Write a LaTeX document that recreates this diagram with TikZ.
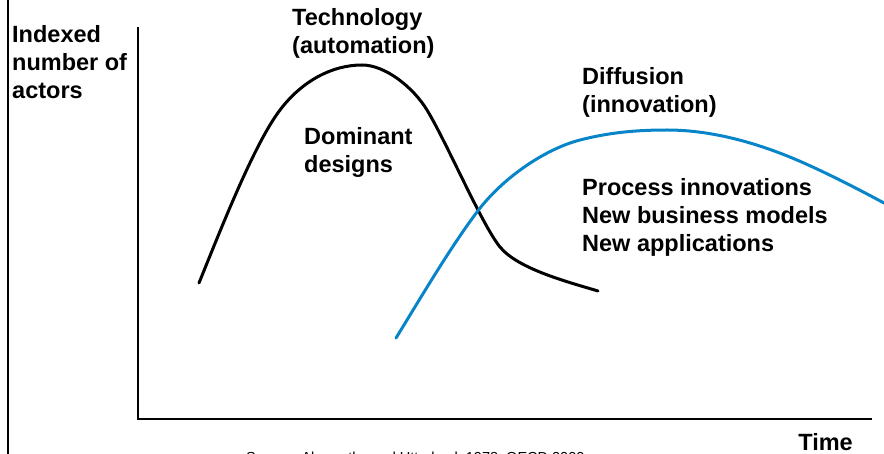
\documentclass[tikz,border=0pt]{standalone}
\usepackage{fontspec}
\setmainfont{Liberation Sans}
\definecolor{diffblue}{RGB}{8,132,200}
\begin{document}
\begin{tikzpicture}[x=1pt,y=-1pt,
  lbl/.style={anchor=base west,inner sep=0pt,align=left,
    font=\fontsize{23.5}{28}\selectfont\bfseries},
  axisline/.style={line width=2.6pt},
  curve/.style={line width=3pt,line cap=round}]
\useasboundingbox (0,0) rectangle (884,454);
\begin{scope}
\clip (0,0) rectangle (884,454);
% left border
\draw[line width=2pt] (8,0) -- (8,454);
% axes
\coordinate (ytop) at (138,27);
\coordinate (origin) at (138,419);
\coordinate (xend) at (872,419);
\draw[axisline] (ytop) -- (origin) -- (xend);
% technology curve
\coordinate (t0) at (199,283);
\coordinate (t1) at (280,110);
\coordinate (t2) at (362,65);
\coordinate (t3) at (427,110);
\coordinate (t4) at (500,247);
\coordinate (t5) at (598,291);
\draw[curve,black] (t0)
  .. controls (224,221) and (255,143) .. (t1)
  .. controls (302,81) and (332,65) .. (t2)
  .. controls (385,65) and (413,87) .. (t3)
  .. controls (447,143) and (482,225) .. (t4)
  .. controls (518,269) and (568,282) .. (t5);
% diffusion curve
\coordinate (d0) at (396,338);
\coordinate (d1) at (477,212);
\coordinate (d2) at (580,140);
\coordinate (d3) at (667,130);
\coordinate (d4) at (797,160);
\coordinate (d5) at (884,203);
\draw[curve,diffblue] (d0)
  .. controls (423,294) and (450,248) .. (d1)
  .. controls (504,176) and (547,148.5) .. (d2)
  .. controls (610,132.3) and (637,130) .. (d3)
  .. controls (712,130) and (757,143) .. (d4)
  .. controls (827,173) and (859,189.5) .. (d5);
% labels (anchor = baseline of last line)
\node[lbl] (yl) at (12,99) {Indexed\\number of\\actors};
\node[lbl] (tech) at (292,54) {Technology\\(automation)};
\node[lbl] (dom) at (304,173) {Dominant\\designs};
\node[lbl] (diff) at (582,113) {Diffusion\\(innovation)};
\node[lbl] (proc) at (582,252) {Process innovations\\New business models\\New applications};
\node[lbl,anchor=base east] (time) at (853,450) {Time};
\node[anchor=base west,inner sep=0pt,font=\fontsize{14.5}{16}\selectfont] (src) at (246,462.5)
  {Source: Abernathy and Utterback 1978, OECD 2000};
\end{scope}
\end{tikzpicture}
\end{document}
